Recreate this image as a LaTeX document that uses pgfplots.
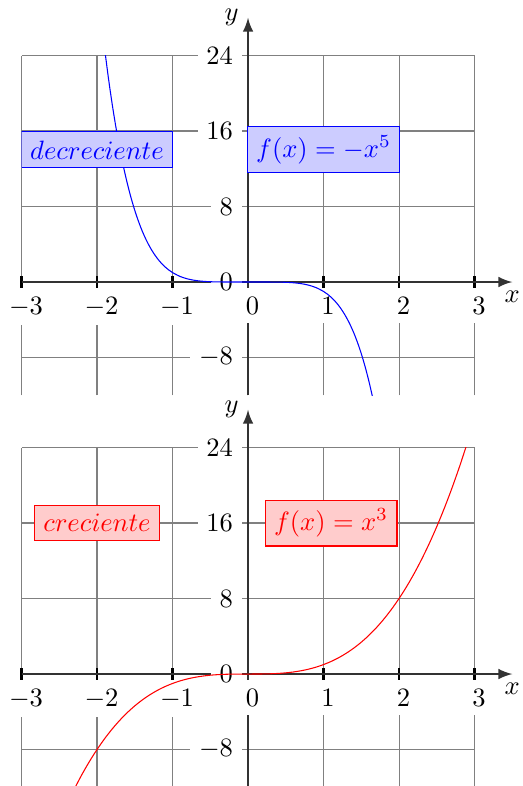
\documentclass[border=0pt]{standalone}
\usepackage{pgfplots}
\pgfplotsset{compat=1.18}

\pgfplotsset{
  ejes/.style={
    x=1cm, y=0.125cm,
    xmin=-3, xmax=3, ymin=-12, ymax=24,
    axis lines=middle,
    axis line style={-latex, line width=0.8pt, black!80, shorten >=-0.5cm},
    xtick={-3,-2,-1,0,1,2,3},
    ytick={-8,0,8,16,24},
    hide obscured x ticks=false,
    hide obscured y ticks=false,
    grid=major,
    grid style={black!50, line width=0.4pt},
    xtick style={black, line width=0.8pt},
    ytick style={draw=none},
    tick label style={fill=white},
    xticklabel style={xshift=1.7pt},
    xlabel={$x$}, ylabel={$y$},
    xlabel style={at={(axis cs:3.5,0)}, anchor=north},
    ylabel style={at={(axis cs:0,28)}, anchor=east},
    anchor=origin,
  },
}
\tikzset{caja/.style={draw=#1, fill=#1!20, text=#1}}

\begin{document}
\begin{tikzpicture}
% f(x) = -x^5
\begin{axis}[ejes, at={(0,0)}]
\addplot[blue, smooth] coordinates {
  (-1.9,24.761) (-1.85,21.670) (-1.8,18.896) (-1.75,16.413) (-1.7,14.199)
  (-1.65,12.230) (-1.6,10.486) (-1.55,8.947) (-1.5,7.594) (-1.45,6.410)
  (-1.4,5.378) (-1.35,4.484) (-1.3,3.713) (-1.25,3.052) (-1.2,2.488)
  (-1.15,2.011) (-1.1,1.611) (-1.05,1.276) (-1,1) (-0.9,0.590)
  (-0.8,0.328) (-0.7,0.168) (-0.6,0.078) (-0.5,0.031) (-0.4,0.010)
  (-0.3,0.002) (-0.2,0.0003) (-0.1,0) (0,0) (0.1,0) (0.2,-0.0003)
  (0.3,-0.002) (0.4,-0.010) (0.5,-0.031) (0.6,-0.078) (0.7,-0.168)
  (0.8,-0.328) (0.9,-0.590) (1,-1) (1.05,-1.276) (1.1,-1.611)
  (1.15,-2.011) (1.2,-2.488) (1.25,-3.052) (1.3,-3.713) (1.35,-4.484)
  (1.4,-5.378) (1.45,-6.410) (1.5,-7.594) (1.55,-8.947) (1.6,-10.486)
  (1.65,-12.230) (1.7,-14.199)
};
\node[caja=blue] at (axis cs:-2,14) {$decreciente$};
\node[caja=blue] at (axis cs:1,14) {$f(x)=-x^5$};
\end{axis}

% f(x) = x^3
\begin{axis}[ejes, at={(0,-5.192cm)}]
\addplot[red, smooth] coordinates {
  (-2.3,-12.167) (-2.2,-10.648) (-2.1,-9.261) (-2,-8) (-1.9,-6.859)
  (-1.8,-5.832) (-1.7,-4.913) (-1.6,-4.096) (-1.5,-3.375) (-1.4,-2.744)
  (-1.3,-2.197) (-1.2,-1.728) (-1.1,-1.331) (-1,-1) (-0.9,-0.729)
  (-0.8,-0.512) (-0.7,-0.343) (-0.6,-0.216) (-0.5,-0.125) (-0.4,-0.064)
  (-0.3,-0.027) (-0.2,-0.008) (-0.1,-0.001) (0,0) (0.1,0.001)
  (0.2,0.008) (0.3,0.027) (0.4,0.064) (0.5,0.125) (0.6,0.216)
  (0.7,0.343) (0.8,0.512) (0.9,0.729) (1,1) (1.1,1.331) (1.2,1.728)
  (1.3,2.197) (1.4,2.744) (1.5,3.375) (1.6,4.096) (1.7,4.913)
  (1.8,5.832) (1.9,6.859) (2,8) (2.1,9.261) (2.2,10.648) (2.3,12.167)
  (2.4,13.824) (2.5,15.625) (2.6,17.576) (2.7,19.683) (2.8,21.952)
  (2.9,24.389)
};
\node[caja=red] at (axis cs:-2,16) {$creciente$};
\node[caja=red] at (axis cs:1.1,16) {$f(x)=x^3$};
\end{axis}

\pgfresetboundingbox
\useasboundingbox (-3.285,-6.675) rectangle (3.629,3.735);
\end{tikzpicture}
\end{document}
